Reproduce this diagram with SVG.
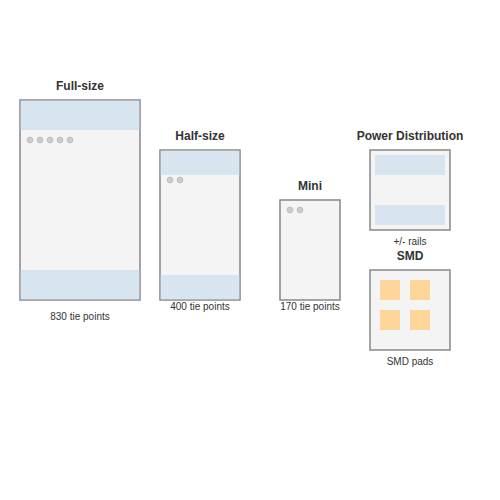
<svg xmlns="http://www.w3.org/2000/svg" width="500" height="500" viewBox="0 0 500 500">
<style>
.board{fill:#f4f4f4;stroke:#888;stroke-width:1.5}
.rail{fill:#d8e4f0}
.pad{fill:#ffd699}
.hole{fill:#ccc;stroke:#aaa;stroke-width:0.5}
.title{font-family:"Liberation Sans",Arial,sans-serif;font-size:12px;font-weight:bold;fill:#333;text-anchor:middle}
.lbl{font-family:"Liberation Sans",Arial,sans-serif;font-size:10px;fill:#333;text-anchor:middle}
</style>
<rect width="500" height="500" fill="#fff"/>
<g id="full-size">
<text class="title" x="80" y="90">Full-size</text>
<rect class="board" x="20" y="100" width="120" height="200"/>
<rect class="rail" x="20.75" y="100.75" width="118.5" height="29.25"/>
<rect class="rail" x="20.75" y="270" width="118.5" height="29.25"/>
<circle class="hole" cx="30" cy="140" r="3"/><circle class="hole" cx="40" cy="140" r="3"/><circle class="hole" cx="50" cy="140" r="3"/><circle class="hole" cx="60" cy="140" r="3"/><circle class="hole" cx="70" cy="140" r="3"/>
<text class="lbl" x="80" y="320">830 tie points</text>
</g>
<g id="half-size">
<text class="title" x="200" y="140">Half-size</text>
<rect class="board" x="160" y="150" width="80" height="150"/>
<rect class="rail" x="160.75" y="150.75" width="78.5" height="24.25"/>
<rect class="rail" x="160.75" y="275" width="78.5" height="24.25"/>
<circle class="hole" cx="170" cy="180" r="3"/><circle class="hole" cx="180" cy="180" r="3"/>
<text class="lbl" x="200" y="310">400 tie points</text>
</g>
<g id="mini">
<text class="title" x="310" y="190">Mini</text>
<rect class="board" x="280" y="200" width="60" height="100"/>
<circle class="hole" cx="290" cy="210" r="3"/><circle class="hole" cx="300" cy="210" r="3"/>
<text class="lbl" x="310" y="310">170 tie points</text>
</g>
<g id="power">
<text class="title" x="410" y="140">Power Distribution</text>
<rect class="board" x="370" y="150" width="80" height="80"/>
<rect class="rail" x="375" y="155" width="70" height="20"/>
<rect class="rail" x="375" y="205" width="70" height="20"/>
<text class="lbl" x="410" y="245">+/- rails</text>
</g>
<g id="smd">
<text class="title" x="410" y="260">SMD</text>
<rect class="board" x="370" y="270" width="80" height="80"/>
<rect class="pad" x="380" y="280" width="20" height="20"/>
<rect class="pad" x="410" y="280" width="20" height="20"/>
<rect class="pad" x="380" y="310" width="20" height="20"/>
<rect class="pad" x="410" y="310" width="20" height="20"/>
<text class="lbl" x="410" y="365">SMD pads</text>
</g>
<g id="connectors"/>
</svg>
